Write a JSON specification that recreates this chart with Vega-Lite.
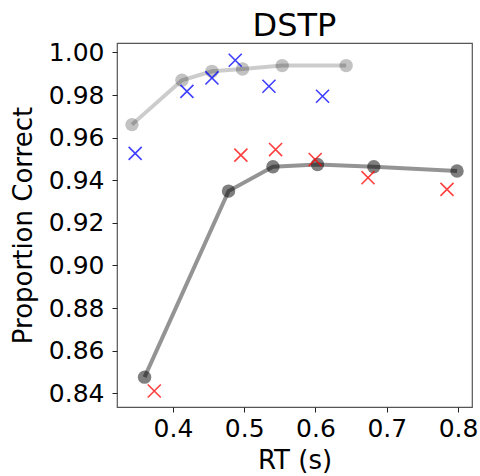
{
  "$schema": "https://vega.github.io/schema/vega-lite/v6.json",
  "width": 355,
  "height": 364,
  "autosize": "none",
  "padding": {"left": 117, "top": 43, "right": 8, "bottom": 69},
  "background": "white",
  "title": {
    "text": "DSTP",
    "font": "DejaVu Sans",
    "fontSize": 32,
    "fontWeight": "normal",
    "color": "black",
    "anchor": "middle",
    "baseline": "alphabetic",
    "offset": 7,
    "dy": 35
  },
  "config": {
    "view": {"stroke": "#555", "strokeWidth": 1.2},
    "axis": {
      "domain": false,
      "grid": false,
      "tickColor": "#222",
      "tickSize": 5,
      "tickWidth": 1,
      "labelFont": "DejaVu Sans",
      "labelFontSize": 25,
      "labelColor": "black",
      "titleFont": "DejaVu Sans",
      "titleFontSize": 26,
      "titleFontWeight": "normal",
      "titleColor": "black"
    }
  },
  "data": {
    "values": [
      {"group": "model_congruent", "rt": 0.3425, "pc": 0.9661},
      {"group": "model_congruent", "rt": 0.4126, "pc": 0.9869},
      {"group": "model_congruent", "rt": 0.4547, "pc": 0.9911},
      {"group": "model_congruent", "rt": 0.4976, "pc": 0.9922},
      {"group": "model_congruent", "rt": 0.5533, "pc": 0.9938},
      {"group": "model_congruent", "rt": 0.6430, "pc": 0.9938},
      {"group": "model_incongruent", "rt": 0.3602, "pc": 0.8476},
      {"group": "model_incongruent", "rt": 0.4780, "pc": 0.9349},
      {"group": "model_incongruent", "rt": 0.5403, "pc": 0.9463},
      {"group": "model_incongruent", "rt": 0.6028, "pc": 0.9474},
      {"group": "model_incongruent", "rt": 0.6818, "pc": 0.9463},
      {"group": "model_incongruent", "rt": 0.7986, "pc": 0.9443},
      {"group": "data_congruent", "rt": 0.3470, "pc": 0.9526},
      {"group": "data_congruent", "rt": 0.4196, "pc": 0.9817},
      {"group": "data_congruent", "rt": 0.4547, "pc": 0.9880},
      {"group": "data_congruent", "rt": 0.4874, "pc": 0.9963},
      {"group": "data_congruent", "rt": 0.5347, "pc": 0.9841},
      {"group": "data_congruent", "rt": 0.6099, "pc": 0.9794},
      {"group": "data_incongruent", "rt": 0.3738, "pc": 0.8411},
      {"group": "data_incongruent", "rt": 0.4953, "pc": 0.9518},
      {"group": "data_incongruent", "rt": 0.5440, "pc": 0.9544},
      {"group": "data_incongruent", "rt": 0.5996, "pc": 0.9497},
      {"group": "data_incongruent", "rt": 0.6737, "pc": 0.9412},
      {"group": "data_incongruent", "rt": 0.7845, "pc": 0.9357}
    ]
  },
  "encoding": {
    "x": {
      "field": "rt",
      "type": "quantitative",
      "title": "RT (s)",
      "scale": {"domain": [0.3215, 0.8196], "nice": false, "zero": false},
      "axis": {
        "values": [0.4, 0.5, 0.6, 0.7, 0.8],
        "format": ".1f",
        "labelBaseline": "alphabetic",
        "labelPadding": 24,
        "titleBaseline": "alphabetic",
        "titleX": 177.5,
        "titleY": 61
      }
    },
    "y": {
      "field": "pc",
      "type": "quantitative",
      "title": "Proportion Correct",
      "scale": {"domain": [0.8336, 1.0044], "nice": false, "zero": false},
      "axis": {
        "values": [0.84, 0.86, 0.88, 0.9, 0.92, 0.94, 0.96, 0.98, 1.0],
        "format": ".2f",
        "labelPadding": 8,
        "titleBaseline": "alphabetic",
        "titleAngle": -90,
        "titleX": -86,
        "titleY": 182
      }
    }
  },
  "layer": [
    {
      "transform": [{"filter": "datum.group === 'model_congruent'"}],
      "mark": {"type": "line", "color": "black", "opacity": 0.2, "strokeWidth": 4}
    },
    {
      "transform": [{"filter": "datum.group === 'model_congruent'"}],
      "mark": {"type": "point", "shape": "circle", "filled": true, "color": "black", "opacity": 0.24, "size": 180}
    },
    {
      "transform": [{"filter": "datum.group === 'model_incongruent'"}],
      "mark": {"type": "line", "color": "black", "opacity": 0.42, "strokeWidth": 4}
    },
    {
      "transform": [{"filter": "datum.group === 'model_incongruent'"}],
      "mark": {"type": "point", "shape": "circle", "filled": true, "color": "black", "opacity": 0.5, "size": 180}
    },
    {
      "transform": [{"filter": "datum.group === 'data_congruent'"}],
      "mark": {"type": "point", "shape": "M-1,-1L1,1M-1,1L1,-1", "filled": false, "color": "blue", "opacity": 0.75, "strokeWidth": 1.6, "size": 170}
    },
    {
      "transform": [{"filter": "datum.group === 'data_incongruent'"}],
      "mark": {"type": "point", "shape": "M-1,-1L1,1M-1,1L1,-1", "filled": false, "color": "red", "opacity": 0.75, "strokeWidth": 1.6, "size": 170}
    }
  ]
}
